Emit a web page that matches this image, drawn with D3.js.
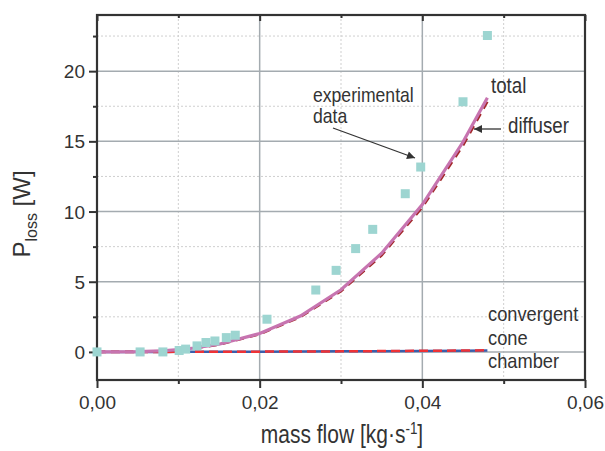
<!DOCTYPE html>
<html>
<head>
<meta charset="utf-8">
<script src="https://cdn.jsdelivr.net/npm/d3@7/dist/d3.min.js"></script>
<style>
  html, body { margin: 0; padding: 0; background: #fff; }
  text { font-family: "Liberation Sans", Arial, sans-serif; fill: #333; }
</style>
</head>
<body>
<svg id="chart" width="605" height="451"></svg>
<script>
// Mass flow [kg/s] and measured loss power [W]
const expFlow = [0, 0.0053, 0.0081, 0.0101, 0.0109, 0.0123, 0.0134, 0.0145, 0.0159, 0.0170, 0.0209, 0.0269, 0.0294, 0.0318, 0.0339, 0.0379, 0.0398, 0.0450, 0.0480];
const expLoss = [0, 0, 0, 0.1, 0.2, 0.43, 0.67, 0.78, 1.02, 1.19, 2.33, 4.41, 5.81, 7.36, 8.73, 11.27, 13.17, 17.82, 22.54];

// Model curves sampled at these mass flows
const modelFlow = [0, 0.005, 0.008, 0.010, 0.012, 0.015, 0.020, 0.025, 0.030, 0.035, 0.040, 0.045, 0.048];
const totalLoss    = [0, 0.02, 0.08, 0.16, 0.28, 0.55, 1.31, 2.56, 4.43, 7.03, 10.5, 14.95, 18.1];
const diffuserLoss = [0, 0.02, 0.07, 0.14, 0.26, 0.52, 1.26, 2.48, 4.32, 6.88, 10.3, 14.7, 17.82];
const coneLoss     = [0, 0, 0, 0.01, 0.01, 0.01, 0.02, 0.03, 0.04, 0.06, 0.08, 0.1, 0.12];
const chamberLoss  = [0, 0, 0, 0.01, 0.01, 0.01, 0.02, 0.03, 0.04, 0.05, 0.07, 0.09, 0.11];

const xMajor = [0, 0.02, 0.04, 0.06];
const xMinor = [0.01, 0.03, 0.05];
const yMajor = [0, 5, 10, 15, 20];
const yMinor = [2.5, 7.5, 12.5, 17.5, 22.5];

const svg = d3.select("#chart");
const L = 97, R = 585, T = 15, B = 380;

const x = d3.scaleLinear().domain([0, 0.06]).range([L, R]);
const y = d3.scaleLinear().domain([-2, 24]).range([B, T]);
const fmt = d => d3.format(".2f")(d).replace(".", ",");

// minor grid (dotted)
const grid = svg.append("g");
grid.selectAll(".vx").data(xMinor).join("line")
  .attr("x1", d => x(d)).attr("x2", d => x(d)).attr("y1", T).attr("y2", B)
  .attr("stroke", "#cfcfcf").attr("stroke-width", 1).attr("stroke-dasharray", "2,2");
grid.selectAll(".hy").data(yMinor).join("line")
  .attr("y1", d => y(d)).attr("y2", d => y(d)).attr("x1", L).attr("x2", R)
  .attr("stroke", "#cfcfcf").attr("stroke-width", 1).attr("stroke-dasharray", "2,2");
// major grid (solid)
grid.selectAll(".vX").data(xMajor.filter(d => d > 0 && d < 0.06)).join("line")
  .attr("x1", d => x(d)).attr("x2", d => x(d)).attr("y1", T).attr("y2", B)
  .attr("stroke", "#a4abb0").attr("stroke-width", 1.5);
grid.selectAll(".hY").data(yMajor).join("line")
  .attr("y1", d => y(d)).attr("y2", d => y(d)).attr("x1", L).attr("x2", R)
  .attr("stroke", "#a4abb0").attr("stroke-width", 1.5);

// axes
const axB = svg.append("g").attr("transform", `translate(0,${B})`)
  .call(d3.axisBottom(x).tickValues(xMajor).tickSize(8).tickFormat(fmt));
const axBm = svg.append("g").attr("transform", `translate(0,${B})`)
  .call(d3.axisBottom(x).tickValues(xMinor).tickSize(4).tickFormat(""));
const axL = svg.append("g").attr("transform", `translate(${L},0)`)
  .call(d3.axisLeft(y).tickValues(yMajor).tickSize(8).tickFormat(d3.format("d")));
const axLm = svg.append("g").attr("transform", `translate(${L},0)`)
  .call(d3.axisLeft(y).tickValues(yMinor).tickSize(4).tickFormat(""));
const axT = svg.append("g").attr("transform", `translate(0,${T})`)
  .call(d3.axisBottom(x).tickValues(xMajor).tickSize(6).tickFormat(""));
const axTm = svg.append("g").attr("transform", `translate(0,${T})`)
  .call(d3.axisBottom(x).tickValues(xMinor).tickSize(3).tickFormat(""));
[axB, axBm, axL, axLm, axT, axTm].forEach(a => {
  a.select(".domain").remove();
  a.selectAll(".tick line").attr("stroke", "#333").attr("stroke-width", 2);
  a.selectAll(".tick text").attr("fill", "#333").style("font-size", "19px")
    .style("font-family", "'Liberation Sans', Arial, sans-serif");
});
axB.selectAll(".tick text").attr("dy", "1.05em").attr("y", 9);
axL.selectAll(".tick text").attr("x", -12).attr("dy", "0.34em");

// frame
svg.append("rect").attr("x", L).attr("y", T).attr("width", R - L).attr("height", B - T)
  .attr("fill", "none").attr("stroke", "#333").attr("stroke-width", 2.2);

// series
const line = vals => d3.line().x((d, i) => x(modelFlow[i])).y(d => y(d))(vals);

svg.append("path").attr("d", line(chamberLoss)).attr("fill", "none")
  .attr("stroke", "#3b5eab").attr("stroke-width", 2.5);
svg.append("path").attr("d", line(coneLoss)).attr("fill", "none")
  .attr("stroke", "#ee3236").attr("stroke-width", 2.5).attr("stroke-dasharray", "9,5");
svg.append("path").attr("d", line(diffuserLoss)).attr("fill", "none")
  .attr("stroke", "#a3282a").attr("stroke-width", 2.5).attr("stroke-dasharray", "8,6");
svg.append("path").attr("d", line(totalLoss)).attr("fill", "none")
  .attr("stroke", "#c774b0").attr("stroke-width", 3.2);

// experimental squares
svg.append("g").selectAll("rect").data(expFlow).join("rect")
  .attr("x", (d) => x(d) - 4.5).attr("y", (d, i) => y(expLoss[i]) - 4.5)
  .attr("width", 9).attr("height", 9).attr("fill", "#9dd5d1");

// arrow marker
svg.append("defs").append("marker").attr("id", "arr")
  .attr("viewBox", "0 0 10 10").attr("refX", 10).attr("refY", 5)
  .attr("markerWidth", 10).attr("markerHeight", 8).attr("markerUnits", "userSpaceOnUse")
  .attr("orient", "auto")
  .append("path").attr("d", "M0,0 L10,5 L0,10 z").attr("fill", "#333");

// condensed label: horizontally squeezed sans text
function label(g, px, py, size, sx, str) {
  return g.append("text")
    .attr("transform", `translate(${px},${py}) scale(${sx},1)`)
    .style("font-size", size + "px").text(str);
}

const ann = svg.append("g");
label(ann, 313, 102, 20, 0.88, "experimental");
label(ann, 313, 123, 20, 0.88, "data");
ann.append("line").attr("x1", 333).attr("y1", 128).attr("x2", 415).attr("y2", 158)
  .attr("stroke", "#333").attr("stroke-width", 1.3).attr("marker-end", "url(#arr)");

label(ann, 491, 93, 22, 0.85, "total");
label(ann, 508, 133, 22, 0.85, "diffuser");
ann.append("line").attr("x1", 501).attr("y1", 129).attr("x2", 474).attr("y2", 129)
  .attr("stroke", "#333").attr("stroke-width", 1.3).attr("marker-end", "url(#arr)");

label(ann, 488, 321, 21, 0.87, "convergent");
label(ann, 488, 345, 21, 0.87, "cone");
label(ann, 488, 368, 21, 0.87, "chamber");

// axis titles
const xt = svg.append("text").attr("transform", "translate(342,443) scale(0.84,1)")
  .attr("text-anchor", "middle").style("font-size", "25px");
xt.append("tspan").text("mass flow [kg·s");
xt.append("tspan").attr("dy", "-9").style("font-size", "16px").text("-1");
xt.append("tspan").attr("dy", "9").text("]");

const yt = svg.append("text").attr("transform", "translate(30,214) rotate(-90)")
  .attr("text-anchor", "middle").style("font-size", "24px");
yt.append("tspan").text("P");
yt.append("tspan").attr("dy", "7").style("font-size", "16px").text("loss");
yt.append("tspan").attr("dy", "-7").text(" [W]");
</script>
</body>
</html>
